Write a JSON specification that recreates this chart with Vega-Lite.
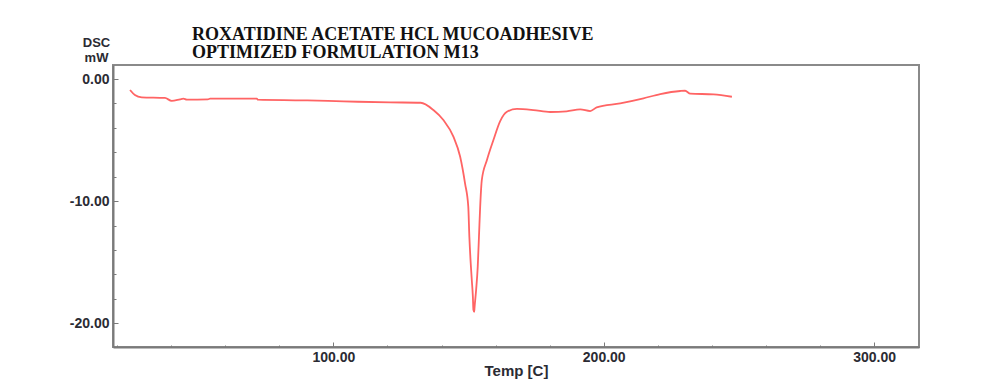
{
  "$schema": "https://vega.github.io/schema/vega-lite/v6.json",
  "width": 806,
  "height": 282,
  "autosize": {"type": "none"},
  "padding": {"left": 113, "top": 65, "right": 67, "bottom": 32},
  "background": "white",
  "config": {
    "view": {"stroke": "#8a8a8a", "strokeWidth": 2},
    "axis": {"grid": false, "labelFont": "Liberation Sans", "labelFontWeight": "bold", "labelColor": "#2b2b33", "labelFontSize": 14, "titleFont": "Liberation Sans", "titleFontWeight": "bold", "titleColor": "#2b2b33", "titleFontSize": 15, "domainColor": "#7a7a7a", "domainWidth": 2, "tickColor": "#7a7a7a", "tickWidth": 1}
  },
  "title": {
    "text": ["ROXATIDINE ACETATE HCL MUCOADHESIVE", "OPTIMIZED FORMULATION M13"],
    "anchor": "start",
    "frame": "group",
    "dx": 79,
    "dy": 32,
    "offset": 6,
    "font": "Liberation Serif",
    "fontWeight": "bold",
    "fontSize": 18,
    "lineHeight": 18,
    "color": "#111111"
  },
  "data": {"values": [
    {"t": 24.8, "dsc": -0.90},
    {"t": 26.6, "dsc": -1.31},
    {"t": 29.1, "dsc": -1.50},
    {"t": 37.7, "dsc": -1.55},
    {"t": 40.2, "dsc": -1.78},
    {"t": 43.3, "dsc": -1.66},
    {"t": 44.5, "dsc": -1.61},
    {"t": 45.8, "dsc": -1.69},
    {"t": 53.6, "dsc": -1.66},
    {"t": 54.4, "dsc": -1.61},
    {"t": 71.7, "dsc": -1.61},
    {"t": 72.1, "dsc": -1.69},
    {"t": 86.9, "dsc": -1.74},
    {"t": 98.0, "dsc": -1.78},
    {"t": 109.1, "dsc": -1.86},
    {"t": 121.0, "dsc": -1.91},
    {"t": 132.3, "dsc": -1.94},
    {"t": 137.0, "dsc": -2.54},
    {"t": 140.7, "dsc": -3.36},
    {"t": 144.4, "dsc": -4.72},
    {"t": 146.9, "dsc": -6.36},
    {"t": 148.7, "dsc": -8.54},
    {"t": 149.9, "dsc": -10.45},
    {"t": 150.3, "dsc": -12.91},
    {"t": 150.8, "dsc": -15.08},
    {"t": 151.2, "dsc": -16.45},
    {"t": 151.6, "dsc": -17.82},
    {"t": 151.8, "dsc": -18.90},
    {"t": 152.1, "dsc": -19.07},
    {"t": 152.2, "dsc": -18.76},
    {"t": 152.8, "dsc": -17.27},
    {"t": 153.4, "dsc": -15.36},
    {"t": 153.9, "dsc": -12.63},
    {"t": 154.3, "dsc": -10.45},
    {"t": 154.9, "dsc": -8.27},
    {"t": 156.8, "dsc": -6.63},
    {"t": 159.2, "dsc": -4.99},
    {"t": 161.7, "dsc": -3.44},
    {"t": 164.2, "dsc": -2.68},
    {"t": 167.9, "dsc": -2.45},
    {"t": 174.0, "dsc": -2.54},
    {"t": 180.2, "dsc": -2.70},
    {"t": 186.3, "dsc": -2.64},
    {"t": 191.3, "dsc": -2.48},
    {"t": 195.0, "dsc": -2.62},
    {"t": 197.4, "dsc": -2.32},
    {"t": 206.1, "dsc": -1.99},
    {"t": 214.7, "dsc": -1.58},
    {"t": 220.9, "dsc": -1.23},
    {"t": 228.3, "dsc": -0.98},
    {"t": 230.1, "dsc": -0.96},
    {"t": 232.0, "dsc": -1.20},
    {"t": 240.6, "dsc": -1.25},
    {"t": 247.4, "dsc": -1.45}
  ]},
  "layer": [
    {
      "mark": {"type": "line", "color": "#ff6464", "strokeWidth": 1.8, "interpolate": "monotone"},
      "encoding": {
        "x": {"field": "t", "type": "quantitative", "scale": {"domain": [18.5, 316.6], "nice": false, "zero": false},
          "axis": {"orient": "bottom", "values": [100, 200, 300], "format": ".2f", "tickSize": -5, "labelPadding": 8, "title": "Temp  [C]", "titlePadding": -1}},
        "y": {"field": "dsc", "type": "quantitative", "scale": {"domain": [-21.94, 1.15], "nice": false, "zero": false},
          "axis": {"orient": "left", "values": [0, -10, -20], "labelExpr": "replace(format(datum.value, '.2f'), '−', '-')", "tickSize": -5, "labelPadding": 9, "title": ["DSC", "mW"], "titleFontSize": 13, "titleAngle": 0, "titleAlign": "center", "titleBaseline": "middle", "titleX": -17, "titleY": -23, "titleLineHeight": 15}}
      }
    },
    {
      "mark": {"type": "line", "strokeOpacity": 0},
      "encoding": {
        "x": {"field": "t", "type": "quantitative",
          "axis": {"orient": "bottom", "values": [20, 40, 60, 80, 120, 140, 160, 180, 220, 240, 260, 280, 300], "labels": false, "domain": false, "tickSize": -2, "title": null}},
        "y": {"field": "dsc", "type": "quantitative",
          "axis": {"orient": "left", "values": [-2, -4, -6, -8, -12, -14, -16, -18, -20], "labels": false, "domain": false, "tickSize": -3, "title": null}}
      }
    }
  ],
  "resolve": {"axis": {"x": "independent", "y": "independent"}}
}
